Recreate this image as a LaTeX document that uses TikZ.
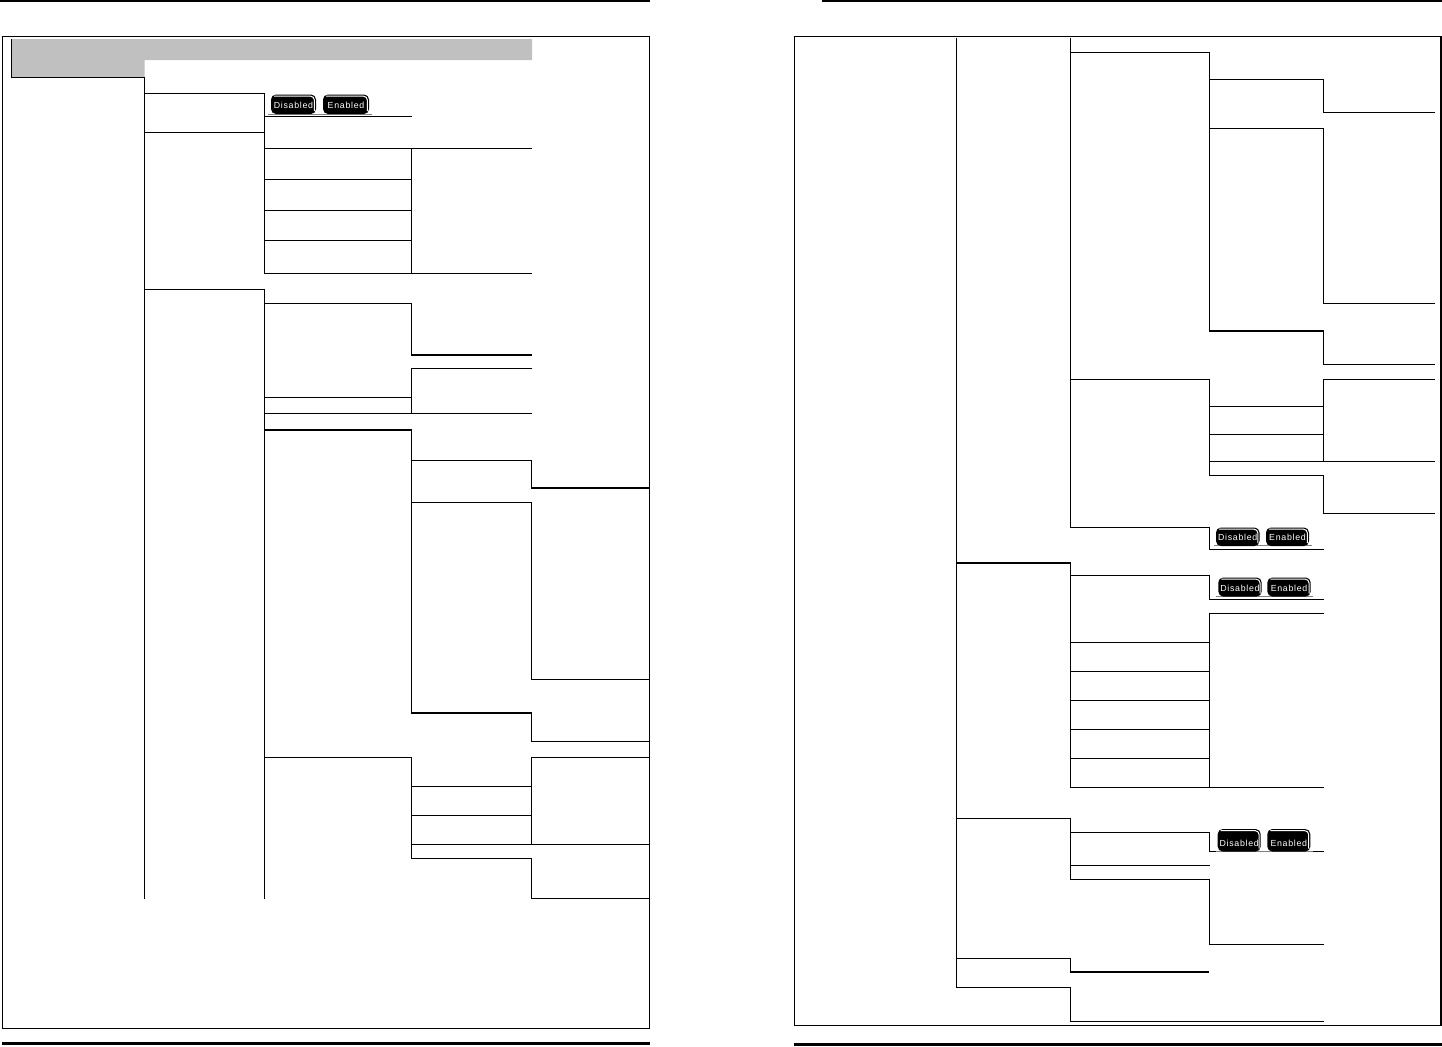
\documentclass[tikz,border=0pt]{standalone}
\usepackage{fontspec}
\newfontfamily\btnfont[LetterSpace=8]{Liberation Sans}
\definecolor{bandgray}{HTML}{C0C0C0}
\tikzset{
  x=0.5pt,y=-0.5pt,
  ln/.style={draw=black,line width=0.55pt,line join=miter},
  thickln/.style={draw=black,line width=1pt,line join=miter},
  rulebar/.style={draw=black,line width=1.25pt},
  btnlabel/.style={text=white,inner sep=0pt,font=\btnfont\fontsize{4.4}{5}\selectfont},
}
% name, x0, y0, x1, y1 (body), text
\newcommand{\tabbtn}[6]{%
  \fill[black,rounded corners=2.5pt] (#2,#5) -- (#2,#3) -- (#4,#3) -- (#4,#5) -- cycle;
  \draw[white,line width=0.5pt,rounded corners=2pt] (#2+3,#3+1.6) -- (#4-1.6,#3+1.6) -- (#4-1.6,#5-3);
  \node[btnlabel] (#1) at ({(#2+#4)/2},{#5-8.5}) {#6};
}
\begin{document}
\begin{tikzpicture}
\useasboundingbox (0,0) rectangle (1442,1046);
\fill[white] (0,0) rectangle (1442,1046);
% page rules
\draw[rulebar] (0,1.2) -- (649.5,1.2);
\draw[rulebar] (822,1.2) -- (1442,1.2);
\draw[rulebar] (2,1043.4) -- (649.5,1043.4);
\draw[rulebar] (794,1044.6) -- (1442,1044.6);
% frames
\draw[ln] (2.5,36.5) rectangle (649.5,1028.5);
\draw[ln] (794.5,36.5) rectangle (1441,1025.5);
% grey heading band
\fill[bandgray] (11.5,39) -- (532,39) -- (532,60) -- (144.5,60) -- (144.5,77.5) -- (11.5,77.5) -- cycle;
\draw[ln] (11.5,39) -- (11.5,77.5) -- (144.5,77.5) -- (144.5,898.5);

%%%%% left page, column 2
\draw[ln] (144.5,93.5) -- (264.5,93.5) -- (264.5,273.5);
\draw[ln] (144.5,132.5) -- (264.5,132.5);
\draw[ln] (144.5,289.5) -- (264.5,289.5) -- (264.5,898.5);
% column 3
\draw[ln] (264.5,116.5) -- (411.5,116.5);
\draw[ln] (264.5,148.5) -- (532,148.5);
\draw[ln] (264.5,179.5) -- (411.5,179.5);
\draw[ln] (264.5,210.5) -- (411.5,210.5);
\draw[ln] (264.5,240.5) -- (411.5,240.5);
\draw[ln] (264.5,273.5) -- (532,273.5);
\draw[ln] (411.5,148.5) -- (411.5,273.5);
\draw[ln] (264.5,303.5) -- (411.5,303.5) -- (411.5,355);
\draw[thickln] (411,355) -- (532,355);
\draw[ln] (532,368.5) -- (411.5,368.5) -- (411.5,413.5);
\draw[ln] (264.5,397.5) -- (411.5,397.5);
\draw[ln] (264.5,413.5) -- (532,413.5);
\draw[thickln] (264,430) -- (412,430);
\draw[ln] (411.5,430) -- (411.5,713);
\draw[ln] (411.5,460.5) -- (531.5,460.5) -- (531.5,488);
\draw[thickln] (531,488) -- (649.5,488);
\draw[ln] (411.5,502.5) -- (531.5,502.5) -- (531.5,679.5) -- (649.5,679.5);
\draw[thickln] (411,713) -- (532,713);
\draw[ln] (531.5,713) -- (531.5,741.5) -- (649.5,741.5);
\draw[ln] (264.5,757.5) -- (411.5,757.5) -- (411.5,858.5) -- (531.5,858.5) -- (531.5,898.5) -- (649.5,898.5);
\draw[ln] (649.5,757.5) -- (531.5,757.5) -- (531.5,844.5);
\draw[ln] (411.5,786.5) -- (531.5,786.5);
\draw[ln] (411.5,815.5) -- (531.5,815.5);
\draw[ln] (411.5,844.5) -- (649.5,844.5);

%%%%% right page
\draw[ln] (956.5,37.5) -- (956.5,987.5) -- (1070.5,987.5) -- (1070.5,1021.5) -- (1324,1021.5);
\draw[ln] (1070.5,37.5) -- (1070.5,527.5) -- (1209.5,527.5) -- (1209.5,549.5) -- (1324,549.5);
\draw[ln] (1070.5,52.5) -- (1209.5,52.5) -- (1209.5,331);
\draw[ln] (1209.5,79.5) -- (1323.5,79.5) -- (1323.5,112.5) -- (1435,112.5);
\draw[ln] (1209.5,128.5) -- (1323.5,128.5) -- (1323.5,303.5) -- (1435,303.5);
\draw[thickln] (1209,331) -- (1324,331);
\draw[ln] (1323.5,331) -- (1323.5,364.5) -- (1435,364.5);
\draw[ln] (1070.5,379.5) -- (1209.5,379.5) -- (1209.5,475.5) -- (1323.5,475.5) -- (1323.5,513.5) -- (1435,513.5);
\draw[ln] (1435,379.5) -- (1323.5,379.5) -- (1323.5,461.5);
\draw[ln] (1209.5,406.5) -- (1323.5,406.5);
\draw[ln] (1209.5,434.5) -- (1323.5,434.5);
\draw[ln] (1209.5,461.5) -- (1435,461.5);
\draw[thickln] (956,563) -- (1071,563);
\draw[ln] (1070.5,563) -- (1070.5,787.5) -- (1324,787.5);
\draw[ln] (1070.5,575.5) -- (1209.5,575.5) -- (1209.5,599.5) -- (1324,599.5);
\draw[ln] (1324,613.5) -- (1209.5,613.5) -- (1209.5,787.5);
\draw[ln] (1070.5,642.5) -- (1209.5,642.5);
\draw[ln] (1070.5,671.5) -- (1209.5,671.5);
\draw[ln] (1070.5,700.5) -- (1209.5,700.5);
\draw[ln] (1070.5,729.5) -- (1209.5,729.5);
\draw[ln] (1070.5,758.5) -- (1209.5,758.5);
\draw[ln] (956.5,818.5) -- (1070.5,818.5) -- (1070.5,879.5) -- (1209.5,879.5) -- (1209.5,944.5) -- (1324,944.5);
\draw[ln] (1070.5,832.5) -- (1209.5,832.5) -- (1209.5,851.5) -- (1324,851.5);
\draw[ln] (1070.5,865.5) -- (1209.5,865.5);
\draw[ln] (956.5,958.5) -- (1070.5,958.5) -- (1070.5,972);
\draw[thickln] (1070,972) -- (1209,972);

%%%%% toggle buttons
\draw[gray,line width=0.4pt] (268,114) -- (372,114);
\tabbtn{disA}{271}{94.5}{316}{114}{Disabled}
\tabbtn{enA}{323}{94.5}{369}{114}{Enabled}
\draw[gray,line width=0.4pt] (1214,545.5) -- (1312,545.5);
\tabbtn{disB}{1216}{527.5}{1259.5}{546}{Disabled}
\tabbtn{enB}{1266}{527.5}{1309}{546}{Enabled}
\draw[gray,line width=0.4pt] (1216,596) -- (1313,596);
\tabbtn{disC}{1218.3}{577.5}{1261.7}{596.5}{Disabled}
\tabbtn{enC}{1267.3}{577.5}{1310.7}{596.5}{Enabled}
\draw[gray,line width=0.4pt] (1216,851) -- (1313,851);
\tabbtn{disD}{1217.7}{829}{1260.7}{851.5}{Disabled}
\tabbtn{enD}{1267.3}{829}{1310.3}{851.5}{Enabled}
\end{tikzpicture}
\end{document}
